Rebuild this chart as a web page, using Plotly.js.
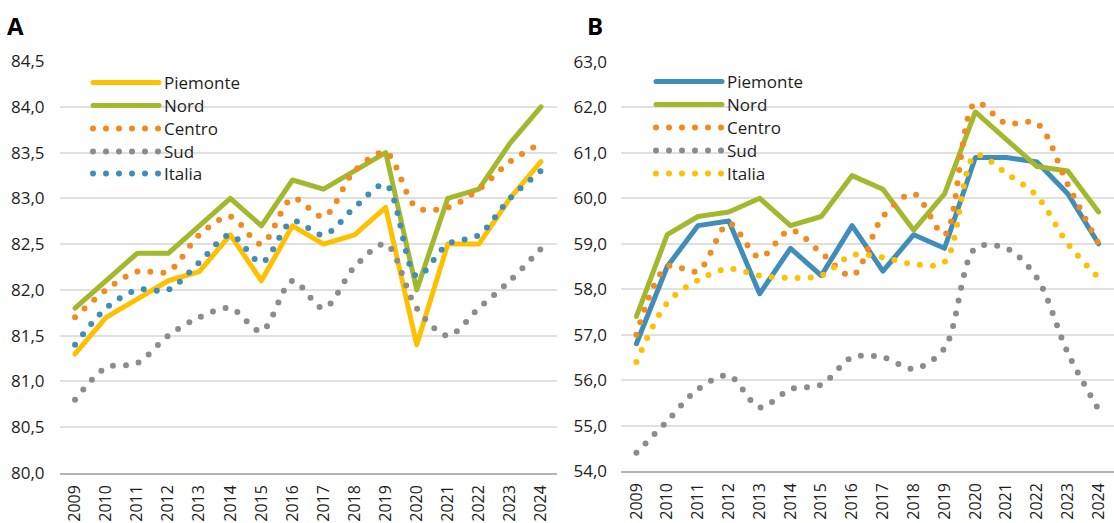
<!DOCTYPE html>
<html>
<head>
<meta charset="utf-8">
<script src="https://cdn.plot.ly/plotly-3.0.1.min.js"></script>
<style>
  html, body { margin: 0; padding: 0; background: #fff; }
  #chart { width: 1114px; height: 523px; }
  .js-line { stroke-linecap: round; stroke-linejoin: round; }
</style>
</head>
<body>
<div id="chart"></div>
<script>
// ---- Data ----
const years = ["2009","2010","2011","2012","2013","2014","2015","2016","2017","2018","2019","2020","2021","2022","2023","2024"];

// Panel A
const A_piemonte = [81.3, 81.7, 81.9, 82.1, 82.2, 82.6, 82.1, 82.7, 82.5, 82.6, 82.9, 81.4, 82.5, 82.5, 83.0, 83.4];
const A_nord     = [81.8, 82.1, 82.4, 82.4, 82.7, 83.0, 82.7, 83.2, 83.1, 83.3, 83.5, 82.0, 83.0, 83.1, 83.6, 84.0];
const A_centro   = [81.7, 82.0, 82.2, 82.2, 82.6, 82.8, 82.5, 83.0, 82.8, 83.3, 83.5, 82.9, 82.9, 83.1, 83.4, 83.6];
const A_sud      = [80.8, 81.15, 81.2, 81.5, 81.7, 81.8, 81.55, 82.1, 81.8, 82.25, 82.5, 81.8, 81.5, 81.8, 82.1, 82.45];
const A_italia   = [81.4, 81.8, 82.0, 82.0, 82.3, 82.6, 82.3, 82.75, 82.6, 82.9, 83.15, 82.15, 82.5, 82.6, 83.0, 83.3];

// Panel B
const B_piemonte = [56.8, 58.5, 59.4, 59.5, 57.9, 58.9, 58.3, 59.4, 58.4, 59.2, 58.9, 60.9, 60.9, 60.8, 60.1, 59.0];
const B_nord     = [57.4, 59.2, 59.6, 59.7, 60.0, 59.4, 59.6, 60.5, 60.2, 59.3, 60.1, 61.9, 61.3, 60.7, 60.6, 59.7];
const B_centro   = [57.0, 58.5, 58.4, 59.45, 58.7, 59.3, 58.8, 58.3, 59.6, 60.1, 59.2, 62.1, 61.65, 61.65, 60.3, 59.0];
const B_sud      = [54.4, 55.1, 55.8, 56.1, 55.4, 55.8, 55.9, 56.5, 56.5, 56.25, 56.7, 58.9, 58.9, 58.25, 56.6, 55.35];
const B_italia   = [56.4, 57.7, 58.2, 58.45, 58.3, 58.25, 58.3, 58.75, 58.7, 58.55, 58.6, 60.95, 60.55, 60.05, 59.0, 58.25];

const seriesNames = ["Piemonte", "Nord", "Centro", "Sud", "Italia"];

// ---- Styles ----
const C_YELLOW = "#FFC000", C_GREEN = "#A3B82C", C_ORANGE = "#F28A1C",
      C_GREY = "#8C8C8C", C_BLUE = "#3F8DBB";
const DOTS = "0px,13px";
const FONT = "Open Sans, Noto Sans, sans-serif";
const TXT = "#1e1e1e";

function legId(n) { return n === 1 ? "legend" : "legend" + n; }

function solid(name, y, color, xa, ya, leg) {
  return { type: "scatter", mode: "lines", name, x: years, y, xaxis: xa, yaxis: ya, legend: legId(leg),
    line: { color, width: 5 }, hoverinfo: "x+y+name" };
}
function dotted(name, y, color, xa, ya, leg) {
  return { type: "scatter", mode: "lines", name, x: years, y, xaxis: xa, yaxis: ya, legend: legId(leg),
    line: { color, width: 6, dash: DOTS, shape: "spline", smoothing: 0.9 }, hoverinfo: "x+y+name" };
}

const traces = [
  solid(seriesNames[0], A_piemonte, C_YELLOW, "x", "y", 1),
  solid(seriesNames[1], A_nord, C_GREEN, "x", "y", 2),
  dotted(seriesNames[2], A_centro, C_ORANGE, "x", "y", 3),
  dotted(seriesNames[3], A_sud, C_GREY, "x", "y", 4),
  dotted(seriesNames[4], A_italia, C_BLUE, "x", "y", 5),
  solid(seriesNames[0], B_piemonte, C_BLUE, "x2", "y2", 6),
  solid(seriesNames[1], B_nord, C_GREEN, "x2", "y2", 7),
  dotted(seriesNames[2], B_centro, C_ORANGE, "x2", "y2", 8),
  dotted(seriesNames[3], B_sud, C_GREY, "x2", "y2", 9),
  dotted(seriesNames[4], B_italia, C_YELLOW, "x2", "y2", 10),
];

const xBase = {
  type: "category", tickangle: -90, showgrid: false, zeroline: false,
  showline: true, linecolor: "#b4b4b4", linewidth: 1.5, ticks: "",
  tickfont: { family: FONT, size: 16, color: TXT }, ticklabelstandoff: 4,
  range: [-0.5, 15.5], fixedrange: true
};
const yBase = {
  showgrid: true, gridcolor: "#e0e0e0", gridwidth: 1.5, zeroline: false,
  showline: false, ticks: "", tickformat: ".1f",
  tickfont: { family: FONT, size: 17, color: TXT }, fixedrange: true
};
const legBase = {
  font: { family: FONT, size: 17, color: TXT }, bgcolor: "rgba(0,0,0,0)",
  itemwidth: 66, traceorder: "normal", xanchor: "left", yanchor: "top",
  itemclick: false, itemdoubleclick: false
};

const layout = {
  width: 1114, height: 523,
  margin: { l: 0, r: 0, t: 0, b: 0 },
  paper_bgcolor: "#ffffff", plot_bgcolor: "#ffffff",
  separators: ",.",
  font: { family: FONT, color: TXT },
  xaxis: Object.assign({}, xBase, { domain: [59.5/1114, 556.5/1114], anchor: "y" }),
  yaxis: Object.assign({}, yBase, { domain: [50/523, 462/523], range: [80, 84.5], dtick: 0.5, tick0: 80, anchor: "x", ticklabelstandoff: 14 }),
  xaxis2: Object.assign({}, xBase, { domain: [621/1114, 1], anchor: "y2" }),
  yaxis2: Object.assign({}, yBase, { domain: [52/523, 461/523], range: [54, 63], dtick: 1, tick0: 54, anchor: "x2", ticklabelstandoff: 13 }),
  annotations: [
    { text: "<b>A</b>", xref: "paper", yref: "paper", x: 15/1114, y: 1 - 25/523, xanchor: "center", yanchor: "middle",
      showarrow: false, font: { family: FONT, size: 24, color: "#000" } },
    { text: "<b>B</b>", xref: "paper", yref: "paper", x: 595/1114, y: 1 - 25/523, xanchor: "center", yanchor: "middle",
      showarrow: false, font: { family: FONT, size: 24, color: "#000" } }
  ],
  showlegend: true
};

// one legend box per row so the row pitch matches the original
const rowA = [82, 105, 128, 151, 173];
const rowB = [81, 104, 127, 150, 173];
for (let i = 0; i < 5; i++) {
  layout[legId(i + 1)] = Object.assign({}, legBase, { x: 88/1114, y: 1 - (rowA[i] - 17)/523 });
  layout[legId(i + 6)] = Object.assign({}, legBase, { x: 651/1114, y: 1 - (rowB[i] - 17)/523 });
}

Plotly.newPlot("chart", traces, layout, { displayModeBar: false, staticPlot: false });
</script>
</body>
</html>
